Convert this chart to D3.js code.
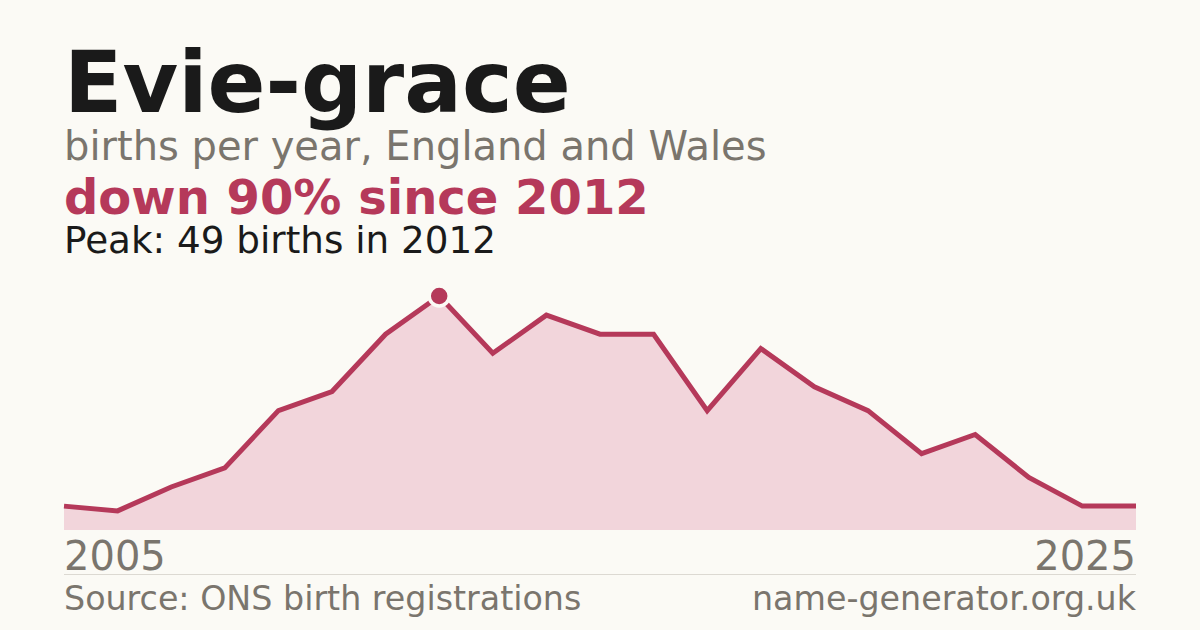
<!DOCTYPE html>
<html>
<head>
<meta charset="utf-8">
<script src="https://cdn.jsdelivr.net/npm/d3@7"></script>
<style>
  html, body { margin: 0; padding: 0; background: #fbfaf5; }
  svg { display: block; font-family: "DejaVu Sans", sans-serif; }
</style>
</head>
<body>
<div id="chart"></div>
<script>
// data
const years = [2005, 2006, 2007, 2008, 2009, 2010, 2011, 2012, 2013, 2014, 2015,
               2016, 2017, 2018, 2019, 2020, 2021, 2022, 2023, 2024, 2025];
const births = [5, 4, 9, 13, 25, 29, 41, 49, 37, 45, 41,
                41, 25, 38, 30, 25, 16, 20, 11, 5, 5];
const axisLabels = ["2005", "2025"];

const W = 1200, H = 630;
const margin = {left: 64, right: 64};
const accent = "#b5395a";
const grey = "#7a756d";

const svg = d3.select("#chart")
  .append("svg")
    .attr("width", W)
    .attr("height", H);

svg.append("rect").attr("width", W).attr("height", H).attr("fill", "#fbfaf5");

// heading block
svg.append("text")
    .attr("x", 64).attr("y", 112)
    .attr("font-size", 85.5).attr("font-weight", "bold")
    .attr("fill", "#1a1a1a")
    .text("Evie-grace");

svg.append("text")
    .attr("x", 64).attr("y", 160)
    .attr("font-size", 40)
    .attr("fill", grey)
    .text("births per year, England and Wales");

svg.append("text")
    .attr("x", 64).attr("y", 214)
    .attr("font-size", 48).attr("font-weight", "bold")
    .attr("fill", accent)
    .text("down 90% since 2012");

const peakIdx = births.indexOf(d3.max(births));

svg.append("text")
    .attr("x", 64).attr("y", 253)
    .attr("font-size", 37.3)
    .attr("fill", "#1a1a1a")
    .text(`Peak: ${births[peakIdx]} births in ${years[peakIdx]}`);

// scales
const x = d3.scaleLinear()
  .domain(d3.extent(years))
  .range([margin.left, W - margin.right]);

const y = d3.scaleLinear()
  .domain([0, d3.max(births)])
  .range([530, 296]);

const data = years.map((yr, i) => ({year: yr, value: births[i]}));

const area = d3.area()
  .x(d => x(d.year))
  .y0(y(0))
  .y1(d => y(d.value));

const line = d3.line()
  .x(d => x(d.year))
  .y(d => y(d.value));

svg.append("path")
    .datum(data)
    .attr("fill", "#f2d5db")
    .attr("d", area);

svg.append("path")
    .datum(data)
    .attr("fill", "none")
    .attr("stroke", accent)
    .attr("stroke-width", 5)
    .attr("stroke-linejoin", "miter")
    .attr("d", line);

// peak marker
svg.append("circle")
    .attr("cx", x(years[peakIdx]))
    .attr("cy", y(births[peakIdx]))
    .attr("r", 10)
    .attr("fill", accent)
    .attr("stroke", "#fbfaf5")
    .attr("stroke-width", 3.5);

// end year labels
svg.append("text")
    .attr("x", x(years[0])).attr("y", 570)
    .attr("font-size", 40)
    .attr("fill", grey)
    .text(axisLabels[0]);

svg.append("text")
    .attr("x", x(years[years.length - 1])).attr("y", 570)
    .attr("text-anchor", "end")
    .attr("font-size", 40)
    .attr("fill", grey)
    .text(axisLabels[1]);

// footer
svg.append("line")
    .attr("x1", 64).attr("x2", W - 64)
    .attr("y1", 574.5).attr("y2", 574.5)
    .attr("stroke", "#dcd9d2")
    .attr("stroke-width", 1);

svg.append("text")
    .attr("x", 64).attr("y", 610)
    .attr("font-size", 33.3)
    .attr("fill", grey)
    .text("Source: ONS birth registrations");

svg.append("text")
    .attr("x", W - 64).attr("y", 610)
    .attr("text-anchor", "end")
    .attr("font-size", 33.3)
    .attr("fill", grey)
    .text("name-generator.org.uk");
</script>
</body>
</html>
